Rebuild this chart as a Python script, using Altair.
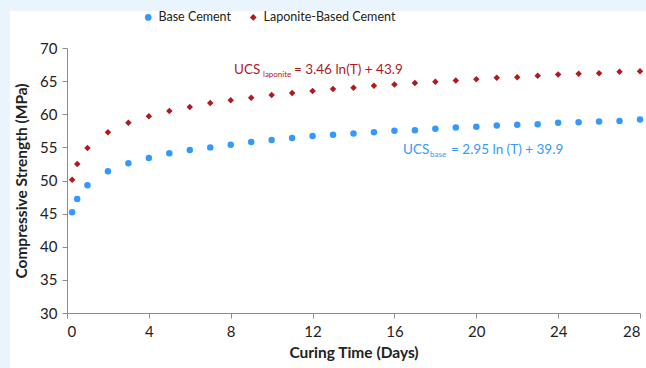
import altair as alt
import pandas as pd

# ---- data ----
time_days = [0.25, 0.5, 1, 2, 3, 4, 5, 6, 7, 8, 9, 10, 11, 12, 13, 14,
             15, 16, 17, 18, 19, 20, 21, 22, 23, 24, 25, 26, 27, 28]
base_ucs = [45.2, 47.2, 49.3, 51.4, 52.6, 53.4, 54.1, 54.6, 55.0, 55.4,
            55.8, 56.1, 56.4, 56.7, 56.9, 57.1, 57.3, 57.5, 57.6, 57.8,
            58.0, 58.1, 58.3, 58.4, 58.5, 58.7, 58.8, 58.9, 59.0, 59.2]
lap_ucs = [50.1, 52.5, 54.9, 57.3, 58.7, 59.7, 60.5, 61.1, 61.7, 62.1,
           62.5, 62.9, 63.2, 63.5, 63.8, 64.0, 64.3, 64.5, 64.7, 64.9,
           65.1, 65.3, 65.5, 65.6, 65.8, 66.0, 66.1, 66.2, 66.4, 66.5]
series = ["Base Cement", "Laponite-Based Cement"]
x_ticks = [0, 4, 8, 12, 16, 20, 24, 28]
y_ticks = [30, 35, 40, 45, 50, 55, 60, 65, 70]

FONT = "Lato"
BLUE = "#3399FF"
RED = "#B0191E"
PALE = "#EAF4FC"
W, H = 573, 265

rows = []
for t, b, l in zip(time_days, base_ucs, lap_ucs):
    rows.append({"t": t, "ucs": b, "series": series[0]})
    rows.append({"t": t, "ucs": l, "series": series[1]})
df = pd.DataFrame(rows)

xscale = alt.Scale(domain=[0, 28], nice=False, zero=False)
yscale = alt.Scale(domain=[30, 70], nice=False, zero=False)
xaxis = alt.Axis(values=x_ticks, title="Curing Time (Days)", grid=False,
                 labelPadding=6, titlePadding=6)
yaxis = alt.Axis(values=y_ticks, title="Compressive Strength (MPa)",
                 grid=False, labelPadding=5, titlePadding=10)

one = pd.DataFrame({"a": [0]})
strip_left = alt.Chart(one).mark_rect(color=PALE).encode(
    x=alt.value(-67), x2=alt.value(-57),
    y=alt.value(-48), y2=alt.value(H + 60),
)
strip_top = alt.Chart(one).mark_rect(color=PALE).encode(
    x=alt.value(-67), x2=alt.value(W + 10),
    y=alt.value(-48), y2=alt.value(-37),
)

points = alt.Chart(df).mark_point(filled=True, opacity=1, size=42).encode(
    x=alt.X("t:Q", scale=xscale, axis=xaxis),
    y=alt.Y("ucs:Q", scale=yscale, axis=yaxis),
    color=alt.Color("series:N",
                    scale=alt.Scale(domain=series, range=[BLUE, RED]),
                    legend=alt.Legend(title=None, orient="none",
                                      direction="horizontal",
                                      legendX=75, legendY=-37,
                                      columnPadding=16, symbolSize=45,
                                      labelFontSize=12.5, labelFont=FONT,
                                      labelColor="#222222")),
    shape=alt.Shape("series:N",
                    scale=alt.Scale(domain=series, range=["circle", "diamond"]),
                    legend=None),
)

lap_anchor = pd.DataFrame({"t": [8.16], "ucs": [66.05]})
base_anchor = pd.DataFrame({"t": [16.42], "ucs": [54.0]})


def seg(data, txt, color, dx, dy=0, size=13.5):
    return alt.Chart(data).mark_text(
        text=txt, color=color, font=FONT, fontSize=size, align="left",
        baseline="alphabetic", dx=dx, dy=dy,
    ).encode(x=alt.X("t:Q", scale=xscale, axis=xaxis),
             y=alt.Y("ucs:Q", scale=yscale, axis=yaxis))


ann = (
    seg(lap_anchor, "UCS", RED, 0)
    + seg(lap_anchor, "laponite", RED, 29, 3, 8)
    + seg(lap_anchor, "= 3.46 ln(T) + 43.9", RED, 60)
    + seg(base_anchor, "UCS", BLUE, 0)
    + seg(base_anchor, "base", BLUE, 27, 3, 8)
    + seg(base_anchor, "= 2.95 ln (T) + 39.9", BLUE, 48)
)

chart = (strip_left + strip_top + points + ann).properties(
    width=W, height=H,
    autosize=alt.AutoSizeParams(type="none"),
    padding={"left": 67, "top": 48, "right": 6, "bottom": 55},
    background="white",
).configure_view(stroke=None).configure_axis(
    domainColor="#8C8C8C", tickColor="#8C8C8C", tickSize=5,
    labelFont=FONT, labelFontSize=15, labelColor="#222222",
    titleFont=FONT, titleFontSize=15.5, titleFontWeight="bold",
    titleColor="#222222",
)

chart.save("out.html", embed_options={"renderer": "svg", "actions": False})
